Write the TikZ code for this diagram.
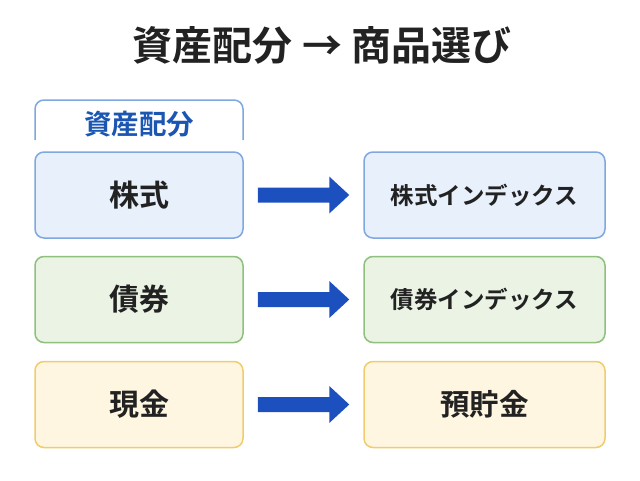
\documentclass[tikz,border=0pt]{standalone}
\usepackage{fontspec}
\setmainfont{Noto Sans CJK JP}[BoldFont={* Bold}]
\definecolor{bfill}{HTML}{E8F0FC}
\definecolor{bdraw}{HTML}{7FA7E0}
\definecolor{gfill}{HTML}{EAF3E4}
\definecolor{gdraw}{HTML}{8FC07E}
\definecolor{yfill}{HTML}{FEF6E0}
\definecolor{ydraw}{HTML}{F0CC6C}
\definecolor{arrowc}{HTML}{1C50BE}
\definecolor{headc}{HTML}{1A56B2}
\definecolor{txt}{HTML}{222222}
\tikzset{
  box/.style={rounded corners=9pt, line width=1.5pt, minimum height=86pt, inner sep=0pt, text=txt},
  lbox/.style={box, minimum width=208pt, font=\fontsize{30}{34}\selectfont\bfseries},
  rbox/.style={box, minimum width=241pt, font=\fontsize{23.5}{27}\selectfont\bfseries},
}
\begin{document}
\begin{tikzpicture}[x=1pt,y=-1pt]
\useasboundingbox (0,0) rectangle (640,480);
\node[font=\fontsize{40}{46}\selectfont\bfseries, text=txt] (title) at (322,45) {資産配分 → 商品選び};
% header tab
\draw[bdraw, line width=1.5pt, rounded corners=9pt] (35,140) -- (35,100) -- (243,100) -- (243,140);
\node[font=\fontsize{27.5}{31}\selectfont\bfseries, text=headc] (head) at (139,124) {資産配分};
% left boxes
\node[lbox, fill=bfill, draw=bdraw] (s) at (139,195) {株式};
\node[lbox, fill=gfill, draw=gdraw] (b) at (139,299.5) {債券};
\node[lbox, fill=yfill, draw=ydraw] (c) at (139,404.5) {現金};
% right boxes
\node[rbox, fill=bfill, draw=bdraw] (si) at (484.5,195) {株式インデックス};
\node[rbox, fill=gfill, draw=gdraw] (bi) at (484.5,299.5) {債券インデックス};
\node[rbox, fill=yfill, draw=ydraw, font=\fontsize{29.5}{34}\selectfont\bfseries] (dep) at (484.5,404.5) {預貯金};
% arrows
\foreach \a/\bb in {s/si, b/bi, c/dep}{
  \path ([xshift=14pt]\a.east) coordinate (\a-s);
  \path ([xshift=-14pt]\bb.west) coordinate (\a-e);
  \fill[arrowc] ([yshift=7.5pt]\a-s) -- ([xshift=-20pt,yshift=7.5pt]\a-e) -- ([xshift=-20pt,yshift=18.5pt]\a-e) -- (\a-e) -- ([xshift=-20pt,yshift=-18.5pt]\a-e) -- ([xshift=-20pt,yshift=-7.5pt]\a-e) -- ([yshift=-7.5pt]\a-s) -- cycle;
}
\end{tikzpicture}
\end{document}
